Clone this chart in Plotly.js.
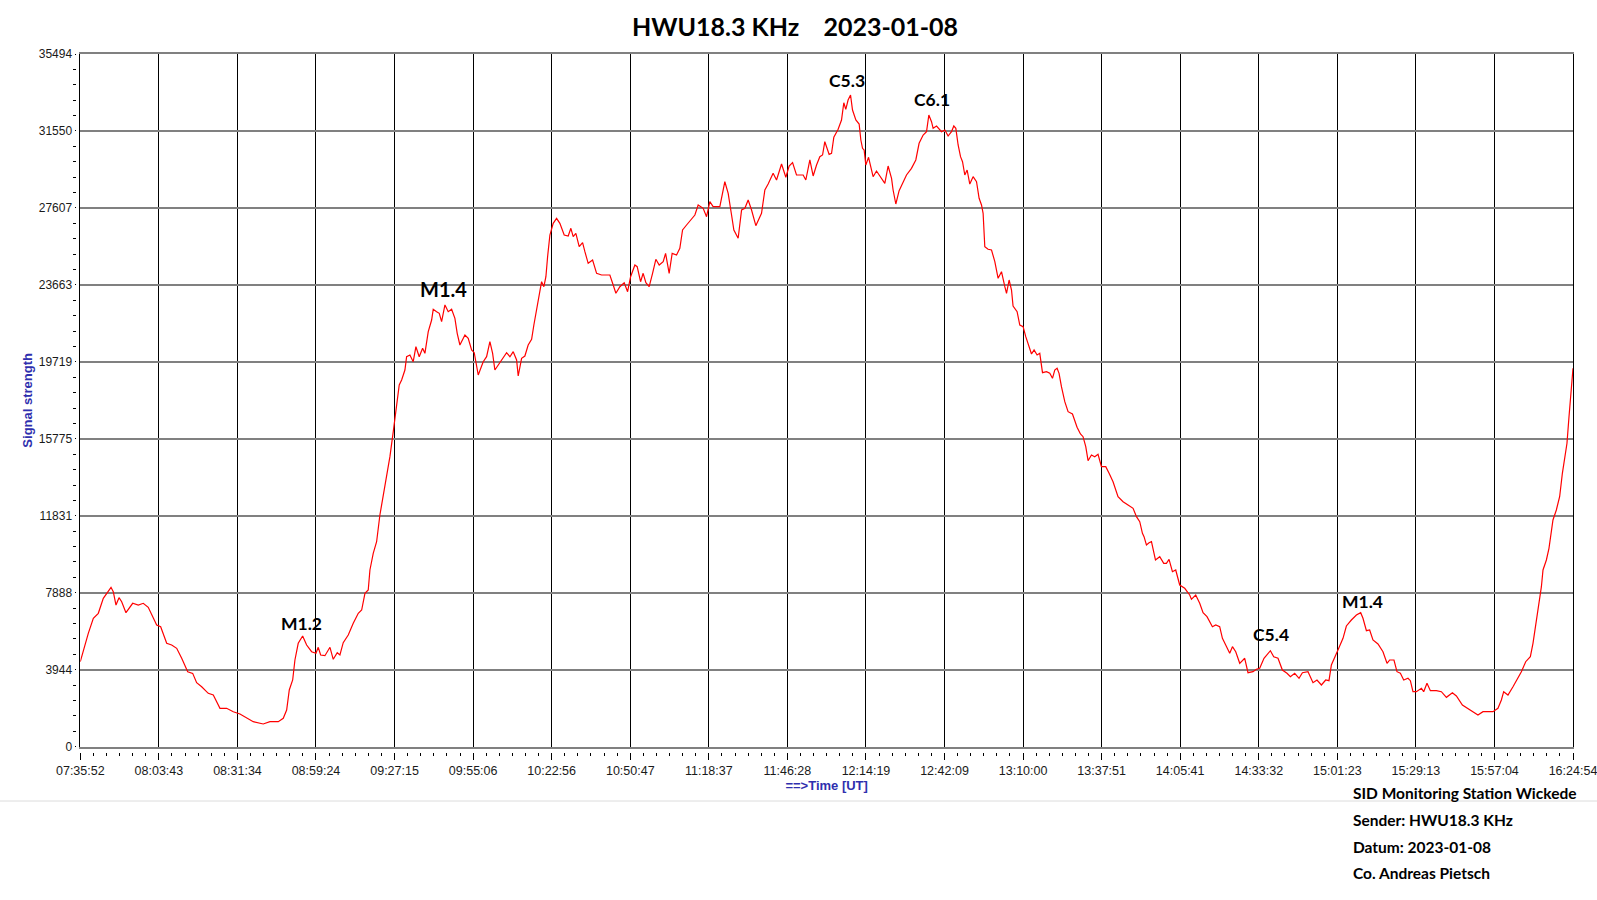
<!DOCTYPE html>
<html>
<head>
<meta charset="utf-8">
<script src="https://cdn.plot.ly/plotly-3.0.1.min.js"></script>
<style>
html,body{margin:0;padding:0;background:#fff;}
#chart{width:1597px;height:900px;}
</style>
</head>
<body>
<div id="chart"></div>
<script>
const DAY = '2023-01-08 ';

const times = [
"07:35:52","07:36:56","07:38:42","07:40:29","07:42:15","07:44:01","07:46:45","07:47:33","07:48:31","07:49:35",
"07:50:32","07:52:03","07:54:26","07:56:25","07:58:11","07:59:57","08:02:56","08:04:21","08:06:29","08:08:15",
"08:10:02","08:11:48","08:13:56","08:15:42","08:17:06","08:18:53","08:21:13","08:23:00","08:25:22","08:27:44",
"08:30:05","08:32:27","08:35:24","08:37:10","08:40:42","08:43:05","08:46:02","08:47:48","08:49:00","08:49:56",
"08:51:08","08:51:56","08:53:06","08:54:40","08:56:05","08:57:51","08:59:23","09:00:12","09:01:03","09:02:34",
"09:04:21","09:05:31","09:06:56","09:07:53","09:09:03","09:10:50","09:12:36","09:14:23","09:15:35","09:16:45",
"09:17:55","09:18:31","09:19:41","09:20:53","09:22:03","09:23:14","09:24:26","09:25:36","09:26:47","09:27:59",
"09:28:54","09:29:45","09:30:55","09:31:31","09:32:41","09:33:51","09:34:49","09:35:59","09:37:11","09:38:00",
"09:39:11","09:40:23","09:40:57","09:42:09","09:43:05","09:43:55","09:45:06","09:46:16","09:47:28","09:48:38",
"09:49:27","09:50:24","09:52:11","09:53:21","09:54:33","09:55:29","09:56:54","09:58:40","09:59:52","10:01:02",
"10:02:00","10:02:48","10:04:20","10:05:45","10:06:57","10:08:08","10:09:18","10:10:30","10:11:04","10:12:16",
"10:13:26","10:14:36","10:15:49","10:16:37","10:17:35","10:18:30","10:19:21","10:20:10","10:20:53","10:21:29",
"10:22:18","10:23:28","10:24:40","10:25:50","10:27:22","10:28:47","10:29:44","10:30:33","10:31:30","10:32:41",
"10:33:53","10:34:42","10:35:52","10:37:26","10:38:51","10:40:37","10:43:33","10:44:44","10:45:41","10:47:06",
"10:48:38","10:49:50","10:50:54","10:52:25","10:53:14","10:54:26","10:55:21","10:56:19","10:57:29","10:58:41",
"10:59:51","11:01:02","11:02:27","11:03:18","11:04:34","11:05:38","11:07:11","11:08:21","11:09:19","11:10:44",
"11:12:30","11:13:41","11:14:51","11:16:37","11:17:49","11:18:59","11:20:09","11:22:32","11:24:18","11:25:29",
"11:26:41","11:27:30","11:29:01","11:30:14","11:31:24","11:32:34","11:33:46","11:35:17","11:37:18","11:38:29",
"11:39:39","11:41:25","11:42:37","11:44:24","11:45:55","11:47:05","11:48:18","11:49:42","11:52:03","11:53:00",
"11:54:26","11:55:36","11:56:48","11:57:58","11:58:56","11:59:44","12:01:16","12:02:07","12:02:56","12:04:27",
"12:05:39","12:06:28","12:07:10","12:07:59","12:08:51","12:09:33","12:10:44","12:11:54","12:12:30","12:13:06",
"12:13:40","12:14:16","12:15:14","12:16:17","12:16:51","12:18:03","12:21:00","12:22:10","12:23:23","12:23:56",
"12:24:54","12:26:04","12:27:29","12:28:41","12:30:27","12:31:59","12:33:09","12:34:35","12:35:47","12:36:36",
"12:37:33","12:38:07","12:39:20","12:41:06","12:42:16","12:43:26","12:44:38","12:45:27","12:46:10","12:46:59",
"12:47:50","12:48:32","12:49:21","12:50:10","12:51:07","12:52:17","12:53:30","12:54:25","12:55:16","12:55:50",
"12:56:26","12:57:36","12:58:49","12:59:59","13:01:09","13:02:21","13:03:32","13:04:08","13:05:03","13:05:54",
"13:06:27","13:07:53","13:08:50","13:10:00","13:10:57","13:12:59","13:13:54","13:14:58","13:15:55","13:16:53",
"13:18:18","13:19:28","13:20:25","13:21:14","13:22:03","13:22:45","13:23:36","13:24:47","13:25:57","13:27:30",
"13:29:08","13:30:20","13:31:15","13:32:13","13:33:02","13:34:14","13:35:24","13:36:34","13:37:46","13:39:18",
"13:40:29","13:41:53","13:43:39","13:45:26","13:47:12","13:48:59","13:50:11","13:51:21","13:52:18","13:52:52",
"13:53:43","13:54:39","13:55:30","13:56:55","13:58:26","13:59:51","14:00:48","14:01:44","14:02:56","14:04:06",
"14:05:31","14:07:17","14:09:03","14:09:40","14:11:11","14:12:36","14:13:47","14:15:11","14:17:06","14:18:17",
"14:19:41","14:20:39","14:21:49","14:23:14","14:24:12","14:25:22","14:26:47","14:28:33","14:29:43","14:31:29",
"14:32:42","14:33:52","14:35:23","14:37:39","14:38:50","14:40:21","14:41:54","14:43:32","14:44:45","14:46:16",
"14:47:48","14:49:00","14:50:59","14:52:45","14:54:10","14:55:44","14:57:15","14:58:25","14:59:16","15:00:26",
"15:01:36","15:03:23","15:04:35","15:06:21","15:08:08","15:09:39","15:10:28","15:11:41","15:12:50","15:14:00",
"15:15:47","15:17:33","15:18:59","15:19:56","15:21:27","15:22:31","15:23:43","15:24:54","15:26:25","15:27:16",
"15:28:11","15:29:24","15:31:10","15:31:59","15:33:09","15:34:21","15:36:29","15:38:15","15:40:02","15:42:09",
"15:43:34","15:45:42","15:47:41","15:49:27","15:51:13","15:53:00","15:56:32","15:58:18","15:59:31","16:00:20",
"16:01:51","16:03:38","16:05:24","16:06:36","16:08:08","16:09:47","16:10:43","16:11:41","16:12:51","16:13:42",
"16:14:16","16:15:28","16:16:23","16:17:48","16:19:00","16:20:10","16:21:08","16:21:57","16:22:46","16:23:29",
"16:24:20","16:24:54"
];

const signal = [
4355,4955,5810,6579,6835,7604,8167,7944,7260,7635,
7430,6866,7348,7260,7348,7143,6236,6149,5298,5211,
5042,4530,3843,3757,3279,3074,2736,2649,1967,1967,
1793,1675,1453,1281,1163,1281,1281,1453,1880,2905,
3418,4443,5298,5672,5211,4868,4786,5093,4699,4663,
5093,4479,4817,4699,5329,5724,6323,6835,7004,7860,
8029,9054,9910,10504,11872,12810,13753,14860,16141,17678,
18534,18790,19302,19983,20070,19728,20496,19983,20414,20158,
21265,21864,22412,22289,22207,21777,22633,22289,22412,21950,
21182,20583,21096,20926,20327,20189,19046,19728,19983,20752,
20158,19302,19645,19901,20189,19983,20240,19815,18995,19901,
20019,20583,20875,21607,22376,23232,23826,23570,24083,25108,
26220,26819,27075,26819,26220,26168,26563,26133,26304,25620,
25825,25364,24770,24939,24257,24170,24170,23657,23232,23570,
23776,23314,24083,24683,24596,23826,24257,23776,23570,24257,
24974,24683,24852,25279,24257,25279,25195,25538,26476,26732,
27075,27244,27757,27587,27157,27926,27670,27670,28950,28356,
27244,26476,26051,27501,27587,28014,27501,26697,27331,28525,
28832,29381,29038,29858,29176,29755,29925,29294,29294,29038,
30063,29243,29806,30232,30319,31001,30353,30404,31227,31635,
32112,32998,32660,33136,33392,32624,32112,31907,31087,30661,
30575,29806,30200,29637,29207,29499,28869,29755,29124,28525,
27808,28490,28950,29294,29637,30063,30918,31343,31514,32369,
32025,31687,31805,31514,31600,31292,31514,31805,31687,30832,
30232,29976,29294,29550,28832,29207,28950,28100,27757,27331,
25620,25487,25451,24852,24001,24339,23570,23232,23913,23401,
22582,22289,21607,21521,21009,20121,20327,20070,20158,19164,
19215,19133,18877,19302,19389,19133,18447,17678,17166,17048,
16366,16023,15884,15372,14655,14947,14860,14983,14347,14347,
14009,13579,12810,12554,12385,12216,11785,11529,10935,10761,
10335,10453,10504,9567,9736,9398,9398,9602,8967,9054,
8285,8117,7773,7553,7773,7348,6866,6661,6149,6236,
6149,5554,5211,4786,5124,4868,4273,4530,3792,3843,
3966,4017,4530,4919,4612,4530,3930,3761,3587,3761,
3505,3792,3843,3279,3418,3162,3418,3382,4186,4530,
4955,5554,6185,6492,6748,6866,6579,5944,5980,5467,
5262,4868,4273,4443,4443,3843,3761,3418,3505,3382,
2818,2818,2992,2818,3249,2869,2869,2818,2531,2767,
2598,2137,1967,1793,1624,1793,1793,1967,2393,2818,
2649,3074,3505,3843,4355,4612,5298,6236,7174,8198,
9054,9567,10166,11616,12128,12810,14009,14690,15546,16909,
18278,19389
];

const timeTicks = ["07:35:52","08:03:43","08:31:34","08:59:24","09:27:15","09:55:06","10:22:56","10:50:47",
  "11:18:37","11:46:28","12:14:19","12:42:09","13:10:00","13:37:51","14:05:41","14:33:32",
  "15:01:23","15:29:13","15:57:04","16:24:54"];
const signalTicks = [0,3944,7888,11831,15775,19719,23663,27607,31550,35494];

const flareLabels = ["M1.2","M1.4","C5.3","C6.1","C5.4","M1.4"];
const flareTimes  = ["08:54:19","09:44:38","12:07:32","12:37:33","14:37:57","15:10:16"];
const flareLevels = [6338,23437,34162,33173,5724,7430];

const chartTitle = "HWU18.3 KHz\u00a0\u00a0\u00a0\u00a02023-01-08";
const footerLines = ["SID Monitoring Station Wickede","Sender: HWU18.3 KHz","Datum: 2023-01-08","Co. Andreas Pietsch"];

// ---------- helpers ----------
function toSec(s){const p=s.split(':').map(Number);return p[0]*3600+p[1]*60+p[2];}
function fromSec(v){
  const h=Math.floor(v/3600), m=Math.floor((v-h*3600)/60), s=v-h*3600-m*60;
  const pad=n=>String(n).padStart(2,'0');
  const si=Math.floor(s), ms=Math.round((s-si)*1000);
  return DAY+pad(h)+':'+pad(m)+':'+pad(si)+'.'+String(ms).padStart(3,'0');
}
const xs = times.map(t=>DAY+t);
const xTickVals = timeTicks.map(t=>DAY+t);
const xMinor = [];
for(let i=0;i<timeTicks.length-1;i++){
  const a=toSec(timeTicks[i]), b=toSec(timeTicks[i+1]);
  for(let k=1;k<6;k++) xMinor.push(fromSec(a+(b-a)*k/6));
}
const yMinor = [];
for(let i=0;i<signalTicks.length-1;i++){
  const a=signalTicks[i], b=signalTicks[i+1];
  for(let k=1;k<5;k++) yMinor.push(a+(b-a)*k/5);
}

// ---------- geometry ----------
const W=1597, H=900;
const M={l:76,r:24,t:54,b:148};
const PW=W-M.l-M.r, PH=H-M.t-M.b;
const axisX=80.3, axisY=746.7;
const dx=(axisX-M.l)/PW, dy=((H-M.b)-axisY)/PH;
const px=x=>(x-M.l)/PW, py=y=>((H-M.b)-y)/PH;

const xRange=[DAY+timeTicks[0], DAY+timeTicks[timeTicks.length-1]];
const yRange=[signalTicks[0], signalTicks[signalTicks.length-1]];

const tickFont={family:'Liberation Sans, Arial, sans-serif',size:12.5,color:'#1a1a1a'};
const blue='#2f2fae';

const traces=[
  {x:xs,y:signal,type:'scatter',mode:'lines',line:{color:'#ff0000',width:1.2},
   xaxis:'x',yaxis:'y',hoverinfo:'x+y',showlegend:false},
  {x:xs,y:signal,type:'scatter',mode:'lines',line:{color:'rgba(0,0,0,0)',width:0},
   xaxis:'x2',yaxis:'y2',hoverinfo:'skip',showlegend:false}
];

const annotations = flareLabels.map((lab,i)=>({
  x:DAY+flareTimes[i], y:flareLevels[i], xref:'x', yref:'y', showarrow:false,
  text:'<b>'+lab+'</b>', xanchor:'center', yanchor:'middle',
  font:{family:'Lato, sans-serif', size:(i===1?20:17.5), color:'#000'}
}));
const footerY=[792.7,820,846.7,873.3];
footerLines.forEach((t,i)=>annotations.push({
  x:px(1351), y:py(footerY[i]), xref:'paper', yref:'paper', showarrow:false,
  text:'<b>'+t+'</b>', xanchor:'left', yanchor:'middle',
  font:{family:'Lato, sans-serif', size:15.5, color:'#000'}
}));

const layout={
  width:W,height:H,margin:M,paper_bgcolor:'#fff',plot_bgcolor:'#fff',showlegend:false,
  title:{text:'<b>'+chartTitle+'</b>',font:{family:'Lato, sans-serif',size:25,color:'#000'},
    x:795/W,xref:'container',xanchor:'center',y:1-27/H,yref:'container',yanchor:'middle'},
  xaxis:{domain:[dx,1],anchor:'y',type:'date',range:xRange,tickmode:'array',tickvals:xTickVals,
    showticklabels:false,ticks:'',showgrid:true,gridcolor:'#000',gridwidth:1,
    showline:true,linecolor:'#808080',linewidth:2,mirror:true,zeroline:false,fixedrange:true},
  yaxis:{domain:[dy,1],anchor:'x',range:yRange,tickmode:'array',tickvals:signalTicks,
    showticklabels:false,ticks:'',showgrid:true,gridcolor:'#808080',gridwidth:2,
    showline:true,linecolor:'#000',linewidth:1,mirror:true,zeroline:false,fixedrange:true},
  xaxis2:{overlaying:'x',anchor:'free',position:0,domain:[dx,1],type:'date',range:xRange,
    tickmode:'array',tickvals:xTickVals,ticktext:timeTicks,ticks:'outside',ticklen:7,tickwidth:1,tickcolor:'#000',
    tickfont:tickFont,ticklabeloverflow:'allow',showgrid:false,showline:false,zeroline:false,fixedrange:true,
    minor:{tickmode:'array',tickvals:xMinor,ticks:'outside',ticklen:3,tickwidth:1,tickcolor:'#000',showgrid:false},
    title:{text:'<b>==>Time [UT]</b>',font:{family:'Liberation Sans, Arial, sans-serif',size:13,color:blue},standoff:2}},
  yaxis2:{overlaying:'y',anchor:'free',position:0,side:'left',domain:[dy,1],range:yRange,
    tickmode:'array',tickvals:signalTicks,ticktext:signalTicks.map(String),ticks:'outside',ticklen:1.5,tickwidth:1,tickcolor:'#000',
    tickfont:{family:'Liberation Sans, Arial, sans-serif',size:12,color:'#1a1a1a'},
    showgrid:false,showline:false,zeroline:false,fixedrange:true,
    minor:{tickmode:'array',tickvals:yMinor,ticks:'outside',ticklen:3.5,tickwidth:1,tickcolor:'#000',showgrid:false},
    title:{text:'<b>Signal strength</b>',font:{family:'Liberation Sans, Arial, sans-serif',size:13,color:blue},standoff:2}},
  shapes:[{type:'line',xref:'paper',yref:'paper',x0:px(0),x1:px(W),y0:py(801),y1:py(801),
    line:{color:'#dcdcdc',width:1}}],
  annotations:annotations
};

Plotly.newPlot('chart',traces,layout,{displayModeBar:false,staticPlot:true});
</script>
</body>
</html>
